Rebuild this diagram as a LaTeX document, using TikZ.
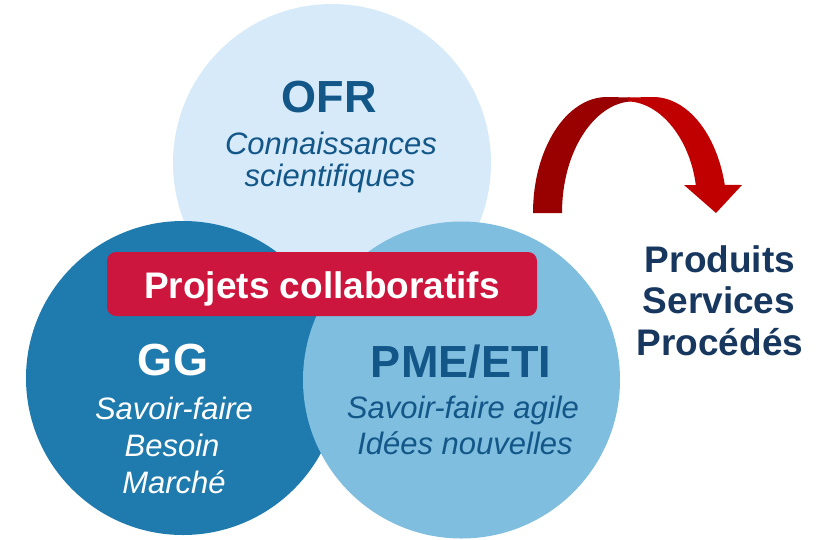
\documentclass[tikz,border=0pt]{standalone}
\usepackage{fontspec}
\setmainfont{Liberation Sans}
\definecolor{ofrfill}{RGB}{214,234,250}
\definecolor{ggfill}{RGB}{31,123,174}
\definecolor{pmefill}{RGB}{127,190,222}
\definecolor{darktxt}{RGB}{19,86,136}
\definecolor{bannerred}{RGB}{204,22,62}
\definecolor{navytxt}{RGB}{23,55,94}
\definecolor{arrdark}{RGB}{153,0,0}
\definecolor{arrbright}{RGB}{192,0,0}
\begin{document}
\begin{tikzpicture}[x=1pt,y=-1pt,
  disc/.style={circle,draw=none,inner sep=0},
  ttl/.style={anchor=base,inner sep=0,font=\bfseries\fontsize{45}{50}\selectfont},
  sub/.style={anchor=base,inner sep=0,font=\itshape\fontsize{31}{36}\selectfont},
  outtxt/.style={anchor=base,inner sep=0,text=navytxt,font=\bfseries\fontsize{37}{42}\selectfont}]
\useasboundingbox (0,0) rectangle (833,539);
% circles
\node[disc,fill=ofrfill,minimum size=318pt] (ofr) at (332,163) {};
\node[disc,fill=ggfill,minimum size=314pt] (gg) at (183,378) {};
\node[disc,fill=pmefill,minimum size=317pt] (pme) at (461.5,380) {};
% banner
\node[fill=bannerred,rounded corners=9pt,minimum width=430pt,minimum height=64pt,inner sep=0] (banner) at (322,284) {};
\node[anchor=base,inner sep=0,text=white,font=\bfseries\fontsize{37}{42}\selectfont] (bannertxt) at (322,298) {Projets collaboratifs};
% OFR texts
\node[ttl,text=darktxt] (ofrt) at (329,112) {OFR};
\node[sub,text=darktxt] (ofr1) at (331,154) {Connaissances};
\node[sub,text=darktxt] (ofr2) at (330,186) {scientifiques};
% GG texts
\node[ttl,text=white] (ggt) at (173,375) {GG};
\node[sub,text=white] (gg1) at (174,419) {Savoir-faire};
\node[sub,text=white] (gg2) at (172,456) {Besoin};
\node[sub,text=white] (gg3) at (174,493) {Marché};
% PME texts
\node[ttl,text=darktxt] (pmet) at (461,377) {PME/ETI};
\node[sub,text=darktxt] (pme1) at (463,418) {Savoir-faire agile};
\node[sub,text=darktxt] (pme2) at (465,454) {Idées nouvelles};
% output texts
\node[outtxt] (o1) at (720,272) {Produits};
\node[outtxt] (o2) at (719,313) {Services};
\node[outtxt] (o3) at (720,355) {Procédés};
% curved arrow: dark back band
\fill[arrdark] (533,213) arc[start angle=180,end angle=90,x radius=74pt,y radius=116pt]
  -- (630,97.5) -- (630,101.5) .. controls (595,104) and (562,150) .. (562,213) -- cycle;
% bright front band with head
\fill[arrbright] (628,97.5) -- (653,97) arc[start angle=90,end angle=14,x radius=74pt,y radius=116pt]
  -- (742,185) -- (716,213) -- (684,185) -- (695.8,185)
  .. controls (690,140) and (662,104) .. (630,101.5) -- (628,101) -- cycle;
\end{tikzpicture}
\end{document}
